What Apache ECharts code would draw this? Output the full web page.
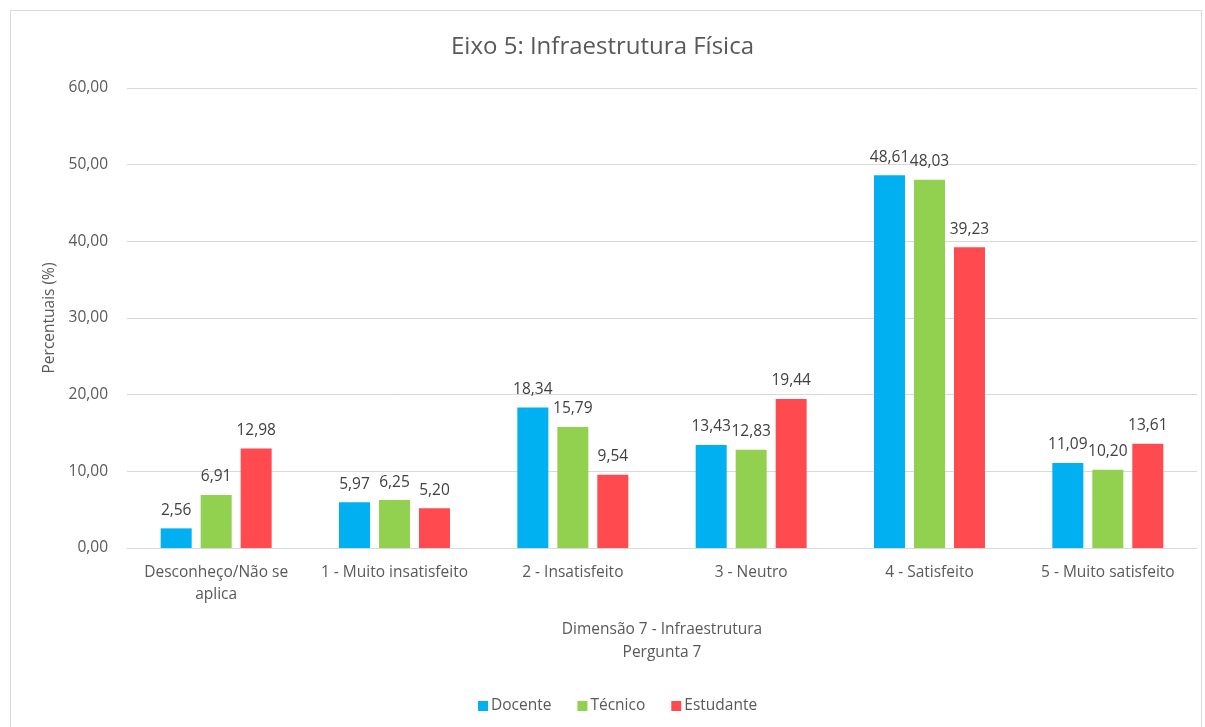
<!DOCTYPE html>
<html>
<head>
<meta charset="utf-8">
<script src="https://cdn.jsdelivr.net/npm/echarts@6/dist/echarts.min.js"></script>
<style>
  html, body { margin: 0; padding: 0; background: #fff; }
  #frame { position: absolute; left: 10px; top: 10px; width: 1192px; height: 730px; border: 1px solid #d9d9d9; box-sizing: border-box; }
  #chart { position: absolute; left: 0; top: 0; width: 1205px; height: 727px; }
</style>
</head>
<body>
<div id="frame"></div>
<div id="chart"></div>
<script>
const categories = ['Desconheço/Não se\naplica', '1 - Muito insatisfeito', '2 - Insatisfeito', '3 - Neutro', '4 - Satisfeito', '5 - Muito satisfeito'];
const docente = [2.56, 5.97, 18.34, 13.43, 48.61, 11.09];
const tecnico = [6.91, 6.25, 15.79, 12.83, 48.03, 10.20];
const estudante = [12.98, 5.20, 9.54, 19.44, 39.23, 13.61];

const FONT = 'Open Sans';
const fmt = v => Number(v).toFixed(2).replace('.', ',');

function barSeries(name, data, color) {
  return {
    name: name,
    type: 'bar',
    data: data,
    barWidth: 31,
    barGap: '29%',
    itemStyle: { color: color },
    label: {
      show: true,
      position: 'top',
      distance: 10,
      color: '#404040',
      fontFamily: FONT,
      fontSize: 15.5,
      formatter: p => fmt(p.value)
    }
  };
}

const chart = echarts.init(document.getElementById('chart'));
chart.setOption({
  animation: false,
  title: {
    text: 'Eixo 5: Infraestrutura Física',
    left: 'center',
    top: 30,
    textStyle: { fontFamily: FONT, fontSize: 24, fontWeight: 'normal', color: '#595959' }
  },
  legend: {
    bottom: 8,
    left: 473,
    itemWidth: 10,
    itemHeight: 10,
    itemGap: 26,
    icon: 'rect',
    textStyle: { fontFamily: FONT, fontSize: 15.5, color: '#595959', padding: [0, 0, 0, -2] },
    data: ['Docente', 'Técnico', 'Estudante']
  },
  grid: { left: 127, right: 8, top: 88, bottom: 179 },
  xAxis: {
    type: 'category',
    data: categories,
    name: 'Dimensão 7 - Infraestrutura\nPergunta 7',
    nameLocation: 'middle',
    nameGap: 70,
    nameTextStyle: { fontFamily: FONT, fontSize: 15.5, color: '#595959', lineHeight: 23 },
    axisLine: { lineStyle: { color: '#d9d9d9' } },
    axisTick: { show: false },
    axisLabel: { fontFamily: FONT, fontSize: 15.5, color: '#595959', margin: 14, lineHeight: 22, interval: 0 }
  },
  yAxis: {
    type: 'value',
    min: 0,
    max: 60,
    interval: 10,
    name: 'Percentuais (%)',
    nameLocation: 'middle',
    nameGap: 68,
    nameRotate: 90,
    nameTextStyle: { fontFamily: FONT, fontSize: 15.5, color: '#595959' },
    axisLine: { show: false },
    axisTick: { show: false },
    splitLine: { lineStyle: { color: '#d9d9d9' } },
    axisLabel: { fontFamily: FONT, fontSize: 15.5, color: '#595959', margin: 19, formatter: v => fmt(v) }
  },
  series: [
    barSeries('Docente', docente, '#00B0F0'),
    barSeries('Técnico', tecnico, '#92D050'),
    barSeries('Estudante', estudante, '#FF4B4F')
  ]
});
</script>
</body>
</html>
